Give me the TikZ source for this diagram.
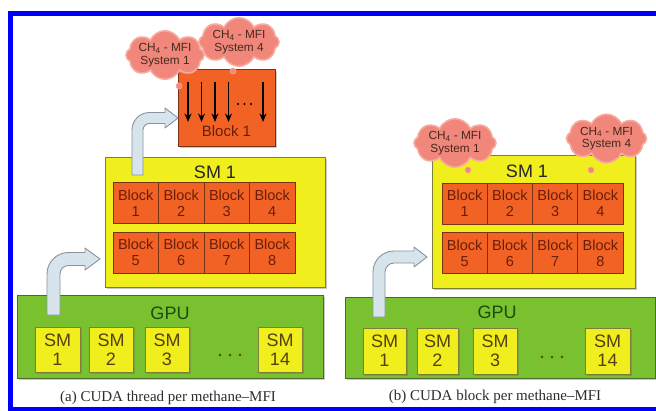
\documentclass[tikz,border=0pt]{standalone}
\usepackage{fontspec}
\setmainfont{Liberation Serif}
\setsansfont{Liberation Sans}
\usetikzlibrary{shapes.symbols,shadows,arrows.meta}
\definecolor{orng}{RGB}{241,98,36}
\definecolor{orngline}{RGB}{120,50,20}
\definecolor{blktxt}{RGB}{105,30,10}
\definecolor{ylw}{RGB}{240,238,28}
\definecolor{ylwline}{RGB}{125,125,60}
\definecolor{smtxt}{RGB}{85,65,10}
\definecolor{grn}{RGB}{122,193,48}
\definecolor{grnline}{RGB}{75,105,45}
\definecolor{gputxt}{RGB}{25,75,15}
\definecolor{cld}{RGB}{240,135,122}
\definecolor{cldline}{RGB}{246,170,160}
\definecolor{cldtxt}{RGB}{70,40,32}
\definecolor{arrfill}{RGB}{216,228,236}
\definecolor{arrline}{RGB}{135,148,160}
\definecolor{frameblue}{RGB}{0,0,250}
\definecolor{captxt}{RGB}{45,45,45}
\begin{document}
\begin{tikzpicture}[x=1pt,y=-1pt,
  shd/.style={drop shadow={shadow xshift=2pt,shadow yshift=-2pt,opacity=0.35,fill=black!60}},
  gpubox/.style={draw=grnline,fill=grn,line width=0.8pt,inner sep=0pt,shd},
  smbig/.style={draw=ylwline,fill=ylw,line width=0.8pt,inner sep=0pt,shd},
  smsmall/.style={draw=ylwline,fill=ylw,line width=0.8pt,inner sep=0pt,shd,
    text=smtxt,align=center,font=\sffamily\fontsize{18}{19}\selectfont,minimum height=45pt},
  blk/.style={draw=orngline,fill=orng,line width=0.7pt,inner sep=0pt,text=blktxt,align=center,
    font=\sffamily\fontsize{14.5}{16}\selectfont,minimum width=45.5pt,minimum height=41pt},
  bigblk/.style={draw=orngline,fill=orng,line width=0.8pt,inner sep=0pt,shd},
  title/.style={font=\sffamily\fontsize{18}{20}\selectfont,inner sep=0pt},
  cloudbox/.style={cloud,cloud puffs=8,cloud puff arc=130,cloud ignores aspect,fill=cld,draw=cldline,
    line width=1.6pt,inner sep=0pt,text=cldtxt,align=center,font=\sffamily\fontsize{11.8}{12.5}\selectfont},
  tail/.style={fill=cld,draw=cldline,line width=0.6pt},
  blockarrow/.style={fill=arrfill,draw=arrline,line width=0.9pt,line join=round},
  downarr/.style={-{Stealth[length=8.5pt,width=7pt]},line width=1.7pt,black},
  caption/.style={font=\fontsize{15}{17}\selectfont,text=captxt,inner sep=0pt}
]
\clip (0,0) rectangle (656,410);
\useasboundingbox (0,0) rectangle (656,410);
\fill[white] (0,0) rectangle (656,410);
\draw[frameblue,line width=5pt] (10.5,13.5) rectangle (680,409.5);

%% ---------------- left panel ----------------
\node[gpubox,minimum width=306pt,minimum height=83pt] (gpuA) at (170,336.5) {};
\node[title,text=gputxt] (gpuAt) at (170,313) {GPU};
\node[smsmall,minimum width=45pt] (a1) at (57.5,349.5) {SM\\1};
\node[smsmall,minimum width=44pt] (a2) at (111,349.5) {SM\\2};
\node[smsmall,minimum width=44pt] (a3) at (167,349.5) {SM\\3};
\node[smsmall,minimum width=44pt] (a14) at (280,349.5) {SM\\14};
\foreach \xx in {220,230,240} \fill[smtxt] (\xx,355) circle (1.3pt);

\node[smbig,minimum width=220pt,minimum height=130pt] (smA) at (215,222) {};
\node[title,text=black!85] (smAt) at (215,172) {SM 1};
\foreach \i/\xx in {1/135.75,2/181.25,3/226.75,4/272.25}
  \node[blk] (ab\i) at (\xx,203) {Block\\\i};
\foreach \i/\xx in {5/135.75,6/181.25,7/226.75,8/272.25}
  \node[blk] (ab\i) at (\xx,252.5) {Block\\\i};

\node[bigblk,minimum width=97pt,minimum height=77pt] (big) at (226.5,107.5) {};
\node[font=\sffamily\fontsize{15}{17}\selectfont,text=blktxt,inner sep=0pt] (bigt) at (226.5,131) {Block 1};
\foreach \xx in {188,201.5,215,228.5,263}
  \draw[downarr] (\xx,82) -- (\xx,122);
\foreach \xx in {238,244.5,251} \fill[black] (\xx,104) circle (1.2pt);

% arrow GPU -> SM1
\draw[blockarrow] (47,315) -- (47,274) .. controls (47,262.13) and (56.63,252.5) .. (68.5,252.5)
  -- (85,252.5) -- (85,248) -- (100,259) -- (85,270) -- (85,265.5) -- (68.5,265.5)
  .. controls (63.81,265.5) and (60,269.31) .. (60,274) -- (60,315) -- cycle;
% arrow SM1 -> Block 1
\draw[blockarrow] (132,175) -- (132,130) .. controls (132,120.33) and (139.83,112.5) .. (149.5,112.5)
  -- (165,112.5) -- (165,108) -- (178,118) -- (165,128) -- (165,123.5) -- (149.5,123.5)
  .. controls (145.91,123.5) and (143,126.41) .. (143,130) -- (143,175) -- cycle;

\fill[tail] (179,86) circle (3pt);
\fill[tail] (233,71) circle (3pt);
\node[cloudbox,minimum width=80pt,minimum height=46pt] (ca4) at (239,42) {CH\textsubscript{4} - MFI\\System 4};
\node[cloudbox,minimum width=78pt,minimum height=45pt] (ca1) at (165,55) {CH\textsubscript{4} - MFI\\System 1};

\node[caption] (capA) at (168,398) {(a) CUDA thread per methane--MFI};

%% ---------------- right panel ----------------
\node[gpubox,minimum width=310pt,minimum height=81pt] (gpuB) at (500,337.5) {};
\node[title,text=gputxt] (gpuBt) at (497,312) {GPU};
\node[smsmall,minimum width=43pt,minimum height=46pt] (b1) at (384.5,351) {SM\\1};
\node[smsmall,minimum width=41pt,minimum height=46pt] (b2) at (437.5,351) {SM\\2};
\node[smsmall,minimum width=44pt,minimum height=46pt] (b3) at (495,351) {SM\\3};
\node[smsmall,minimum width=45pt,minimum height=46pt] (b14) at (607.5,351) {SM\\14};
\foreach \xx in {542,552,562} \fill[smtxt] (\xx,357) circle (1.3pt);

\node[smbig,minimum width=203pt,minimum height=133pt] (smB) at (533.5,221.5) {};
\node[title,text=black!85] (smBt) at (527,171) {SM 1};
\foreach \i/\xx in {1/464.6,2/509.9,3/555.1,4/600.4}
  \node[blk,minimum width=45.25pt] (bc\i) at (\xx,203.5) {Block\\\i};
\foreach \i/\xx in {5/464.6,6/509.9,7/555.1,8/600.4}
  \node[blk,minimum width=45.25pt] (bc\i) at (\xx,253) {Block\\\i};

% arrow GPU -> SM1
\draw[blockarrow] (373,317) -- (373,272) .. controls (373,260.4) and (382.4,251) .. (394,251)
  -- (414,251) -- (414,247) -- (427,257) -- (414,267) -- (414,263) -- (394,263)
  .. controls (389.03,263) and (385,267.03) .. (385,272) -- (385,317) -- cycle;

\fill[tail] (468,170) circle (3pt);
\fill[tail] (591,170) circle (3pt);
\node[cloudbox,minimum width=82pt,minimum height=44pt] (cb1) at (455,143) {CH\textsubscript{4} - MFI\\System 1};
\node[cloudbox,minimum width=80pt,minimum height=45pt] (cb4) at (606.5,138.5) {CH\textsubscript{4} - MFI\\System 4};

\node[caption] (capB) at (495,397) {(b) CUDA block per methane--MFI};
\end{tikzpicture}
\end{document}
